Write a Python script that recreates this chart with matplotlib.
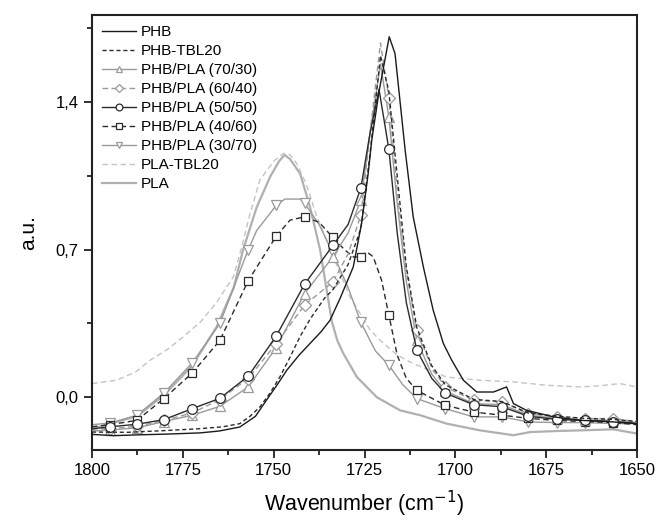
import numpy as np
import matplotlib
matplotlib.use("Agg")
import matplotlib.pyplot as plt
from matplotlib.ticker import MultipleLocator, FuncFormatter

plt.rcParams['font.family'] = ['Liberation Sans', 'DejaVu Sans']

# wavenumbers where Origin put the symbols
mark_wn = [1795.0, 1787.6, 1780.2, 1772.4, 1764.8, 1757.0, 1749.3, 1741.5, 1733.7,
           1726.0, 1718.3, 1710.6, 1702.8, 1695.0, 1687.2, 1679.9, 1672.1, 1664.3, 1656.5]

# PHB
phb_wn = [1800, 1794, 1787, 1780, 1770.3, 1765, 1759.3, 1755, 1752, 1749, 1746.4, 1743, 1740,
          1737, 1734.5, 1731.7, 1729.5, 1728.1, 1725.8, 1724, 1723, 1721, 1718.2, 1716.6,
          1713.8, 1711.6, 1708.8, 1706.1, 1703.3, 1701, 1697.8, 1694.1, 1689.5, 1685.9,
          1684, 1680.4, 1673, 1665.7, 1656.5, 1650]
phb_y = [-0.176, -0.182, -0.178, -0.175, -0.169, -0.16, -0.141, -0.09, -0.014, 0.06, 0.128, 0.2, 0.255,
         0.31, 0.365, 0.47, 0.56, 0.618, 0.825, 1.06, 1.22, 1.45, 1.71, 1.63,
         1.17, 0.856, 0.618, 0.413, 0.255, 0.176, 0.081, 0.025, 0.025, 0.049,
         -0.03, -0.062, -0.093, -0.109, -0.117, -0.125]

# PHB-TBL20
phbtbl_wn = [1800, 1790, 1780, 1770.3, 1764, 1759.3, 1756.5, 1753.8, 1751, 1748.3, 1745.5, 1742.8,
             1740, 1736, 1733.7, 1729.5, 1726, 1723.5, 1720.6, 1718.3, 1716, 1713.5, 1710.6,
             1706.5, 1702.8, 1695, 1687.2, 1679.9, 1672, 1664.3, 1656.5, 1650]
phbtbl_y = [-0.165, -0.166, -0.158, -0.149, -0.14, -0.125, -0.09, -0.046, 0.02, 0.096, 0.19, 0.286,
            0.37, 0.47, 0.51, 0.63, 0.8, 1.15, 1.62, 1.45, 1.05, 0.62, 0.33,
            0.15, 0.06, -0.01, -0.02, -0.075, -0.09, -0.1, -0.105, -0.115]

# PHB/PLA (70/30)
b7030_wn = [1800, 1795.0, 1787.6, 1780.2, 1772.4, 1764.8, 1757.0, 1749.3, 1741.5, 1733.7, 1729.5,
            1726.0, 1723.5, 1720.6, 1718.3, 1716.0, 1713.5, 1710.6, 1706.5, 1702.8, 1695.0,
            1687.2, 1679.9, 1672.1, 1664.3, 1656.5, 1650]
b7030_y = [-0.16, -0.155, -0.145, -0.115, -0.085, -0.043, 0.049, 0.235, 0.492, 0.666, 0.78,
           0.935, 1.25, 1.58, 1.33, 0.92, 0.55, 0.27, 0.11, 0.03, -0.03,
           -0.035, -0.085, -0.1, -0.108, -0.11, -0.12]

# PHB/PLA (60/40)
b6040_wn = [1800, 1795.0, 1787.6, 1780.2, 1772.4, 1764.8, 1757.0, 1749.3, 1741.5, 1733.7, 1729.5,
            1726.0, 1723.5, 1720.6, 1718.3, 1716.0, 1713.5, 1710.6, 1706.5, 1702.8, 1695.0,
            1687.2, 1679.9, 1672.1, 1664.3, 1656.5, 1650]
b6040_y = [-0.15, -0.149, -0.138, -0.11, -0.074, -0.011, 0.089, 0.255, 0.437, 0.547, 0.68,
           0.864, 1.25, 1.68, 1.42, 0.98, 0.6, 0.318, 0.14, 0.049, -0.014,
           -0.022, -0.077, -0.093, -0.101, -0.101, -0.115]

# PHB/PLA (50/50)
b5050_wn = [1800, 1795.0, 1787.6, 1780.2, 1772.4, 1764.8, 1757.0, 1749.3, 1741.5, 1733.7, 1729.5,
            1726.0, 1723.5, 1721.0, 1718.3, 1716.0, 1713.5, 1710.6, 1706.5, 1702.8, 1695.0,
            1687.2, 1679.9, 1672.1, 1664.3, 1656.5, 1650]
b5050_y = [-0.15, -0.14, -0.128, -0.106, -0.054, -0.005, 0.10, 0.29, 0.536, 0.72, 0.82,
           0.993, 1.25, 1.46, 1.177, 0.78, 0.45, 0.223, 0.09, 0.02, -0.035,
           -0.045, -0.09, -0.105, -0.11, -0.115, -0.125]

# PHB/PLA (40/60)
b4060_wn = [1800, 1795.0, 1787.6, 1780.2, 1772.4, 1764.8, 1757.0, 1749.3, 1745.5, 1741.5, 1737.5,
            1733.7, 1730.5, 1728.0, 1726.0, 1724.4, 1722.6, 1720.3, 1718.3, 1716.0, 1713.5,
            1710.6, 1702.8, 1695.0, 1687.2, 1679.9, 1672.1, 1664.3, 1656.5, 1650]
b4060_y = [-0.14, -0.13, -0.109, -0.006, 0.115, 0.27, 0.553, 0.764, 0.84, 0.856, 0.83,
           0.758, 0.70, 0.665, 0.666, 0.69, 0.666, 0.555, 0.39, 0.2, 0.09,
           0.033, -0.038, -0.07, -0.085, -0.1, -0.11, -0.115, -0.12, -0.13]

# PHB/PLA (30/70)
b3070_wn = [1800, 1795.0, 1787.6, 1780.2, 1772.4, 1764.8, 1757.0, 1754.7, 1749.3, 1746.9, 1742.7,
            1741.5, 1737.5, 1733.7, 1729.5, 1726.0, 1722.0, 1718.3, 1714.5, 1710.6, 1702.8,
            1695.0, 1687.2, 1679.9, 1672.1, 1664.3, 1656.5, 1650]
b3070_y = [-0.13, -0.122, -0.085, 0.02, 0.163, 0.35, 0.70, 0.79, 0.91, 0.94, 0.94,
           0.92, 0.82, 0.682, 0.52, 0.355, 0.22, 0.152, 0.06, -0.006, -0.054,
           -0.093, -0.093, -0.117, -0.12, -0.12, -0.125, -0.125]

# PLA-TBL20
platbl_wn = [1800, 1793.2, 1788, 1784, 1779, 1774.9, 1770, 1765.7, 1761.1, 1759.3, 1756.5, 1753.8,
             1750, 1747.3, 1745.5, 1743.7, 1741, 1738.2, 1735.4, 1733.6, 1729, 1723.5, 1720.7,
             1716, 1711.6, 1702.4, 1693.2, 1684, 1674.9, 1665.7, 1660, 1654.7, 1650]
platbl_y = [0.065, 0.081, 0.12, 0.176, 0.23, 0.286, 0.36, 0.45, 0.571, 0.68, 0.87, 1.03,
            1.12, 1.157, 1.15, 1.11, 1.01, 0.86, 0.745, 0.666, 0.476, 0.32, 0.27,
            0.2, 0.16, 0.096, 0.081, 0.073, 0.057, 0.049, 0.055, 0.065, 0.049]

# PLA
pla_wn = [1800, 1795, 1787.6, 1780.2, 1772.4, 1765.7, 1761, 1758.4, 1754.7, 1751, 1748.5, 1747.0,
          1745.5, 1742.7, 1740, 1737.2, 1735.4, 1734, 1732.5, 1730.8, 1727.1, 1721.6, 1715.2,
          1709.7, 1702.4, 1693.2, 1684, 1679.4, 1672, 1665.7, 1656.6, 1650]
pla_y = [-0.15, -0.125, -0.09, 0.01, 0.15, 0.334, 0.52, 0.70, 0.90, 1.045, 1.12, 1.149,
         1.13, 1.06, 0.903, 0.698, 0.508, 0.36, 0.27, 0.207, 0.096, 0.0, -0.062,
         -0.085, -0.125, -0.157, -0.18, -0.165, -0.16, -0.157, -0.152, -0.172]

labels = ["PHB", "PHB-TBL20", "PHB/PLA (70/30)", "PHB/PLA (60/40)", "PHB/PLA (50/50)",
          "PHB/PLA (40/60)", "PHB/PLA (30/70)", "PLA-TBL20", "PLA"]

dark = '#2b2b2b'
mid = '#9a9a9a'
light = '#c4c4c4'

fig = plt.figure(figsize=(6.57, 5.21), dpi=100)
ax = fig.add_axes([0.140, 0.1363, 0.8296, 0.8349])


def marks(wn):
    return [i for i, w in enumerate(wn) if w in mark_wn]


sym = dict(markersize=7, markerfacecolor='white', markeredgewidth=0.9)

ax.plot(pla_wn, pla_y, color='#b0b0b0', lw=1.6, label=labels[8], zorder=1)
ax.plot(platbl_wn, platbl_y, color=light, lw=1.0, ls=(0, (4, 2.5)), label=labels[7], zorder=1)
ax.plot(b3070_wn, b3070_y, color=mid, lw=1.0, marker='v', markevery=marks(b3070_wn),
        markeredgecolor=mid, label=labels[6], zorder=2, **sym)
ax.plot(b4060_wn, b4060_y, color=dark, lw=1.0, ls=(0, (4, 2.5)), marker='s', markevery=marks(b4060_wn),
        markeredgecolor=dark, label=labels[5], zorder=3, **dict(sym, markersize=6.2))
ax.plot(b7030_wn, b7030_y, color=mid, lw=1.0, marker='^', markevery=marks(b7030_wn),
        markeredgecolor=mid, label=labels[2], zorder=3, **sym)
ax.plot(b6040_wn, b6040_y, color=mid, lw=1.0, ls=(0, (4, 2.5)), marker='D', markevery=marks(b6040_wn),
        markeredgecolor=mid, label=labels[3], zorder=3, **dict(sym, markersize=6.3))
ax.plot(b5050_wn, b5050_y, color=dark, lw=1.0, marker='o', markevery=marks(b5050_wn),
        markeredgecolor=dark, label=labels[4], zorder=4, **sym)
ax.plot(phbtbl_wn, phbtbl_y, color=dark, lw=1.0, ls=(0, (3, 2)), label=labels[1], zorder=4)
ax.plot(phb_wn, phb_y, color='#1a1a1a', lw=1.0, label=labels[0], zorder=5)

ax.set_xlim(1800, 1650)
ax.set_ylim(-0.25, 1.813)

ax.xaxis.set_major_locator(MultipleLocator(25))
ax.xaxis.set_minor_locator(MultipleLocator(12.5))
ax.yaxis.set_major_locator(MultipleLocator(0.7))
ax.yaxis.set_minor_locator(MultipleLocator(0.35))
ax.yaxis.set_major_formatter(FuncFormatter(lambda v, p: f"{v:.1f}".replace('.', ',')))

ax.tick_params(which='both', direction='out', top=False, right=False, labelsize=12, width=1.3, color='#222222')
ax.tick_params(which='major', length=6)
ax.tick_params(which='minor', length=3.5)
for s in ax.spines.values():
    s.set_linewidth(1.5)
    s.set_color('#222222')

ax.set_xlabel("Wavenumber (cm$^{-1}$)", fontsize=15.5, labelpad=8)
ax.set_ylabel("a.u.", fontsize=15, labelpad=13)

handles, labs = ax.get_legend_handles_labels()
order = [labs.index(l) for l in labels]
ax.legend([handles[i] for i in order], [labs[i] for i in order], loc='upper left',
          frameon=False, fontsize=11, handlelength=2.2, labelspacing=0.33,
          borderaxespad=0.25, handletextpad=0.35, numpoints=1, markerscale=0.7)

plt.savefig("out.png", dpi=100)
plt.close(fig)
